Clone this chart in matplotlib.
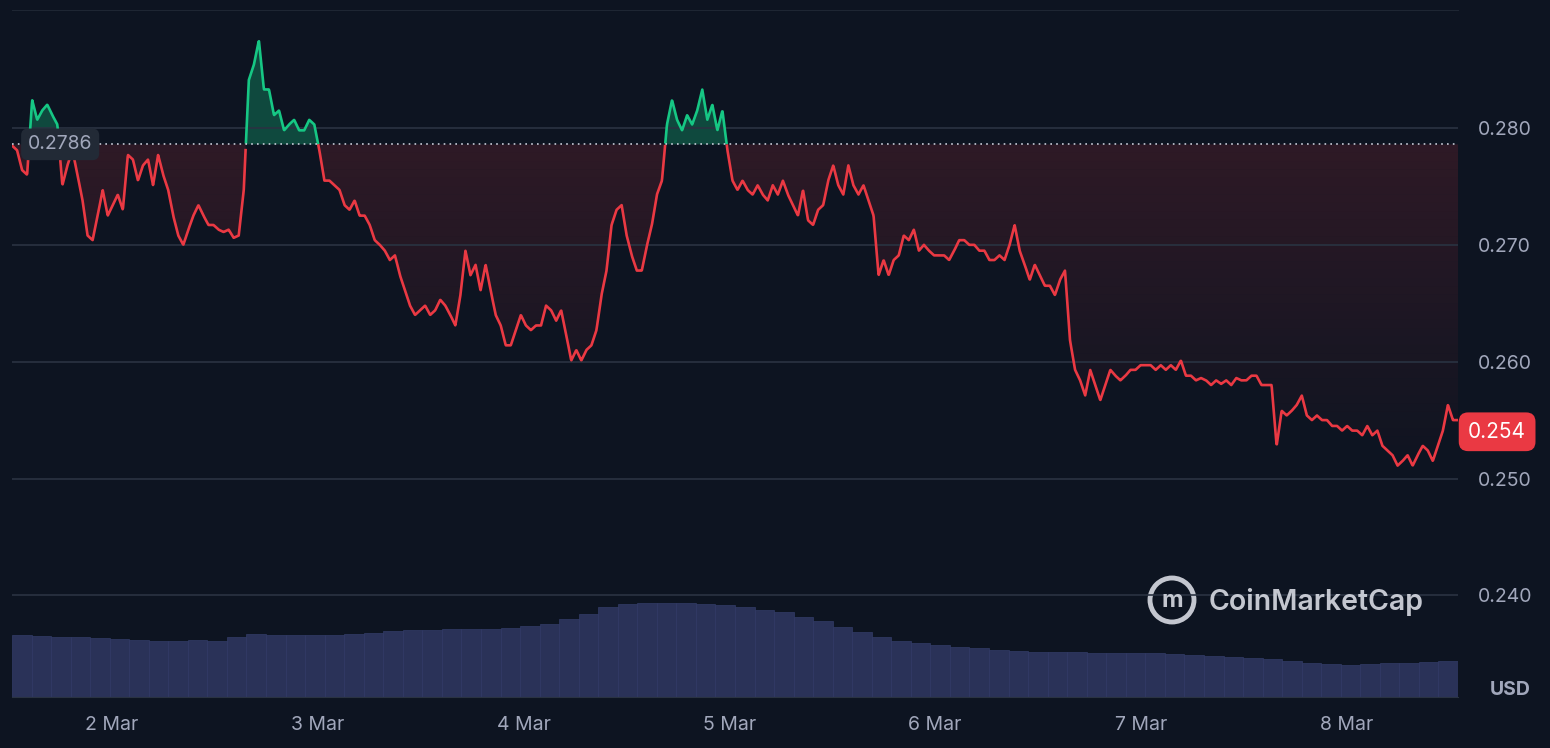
import numpy as np
import matplotlib.pyplot as plt
import matplotlib.dates as mdates
from matplotlib.patches import Ellipse
import pandas as pd

plt.rcParams['font.family'] = ['Inter', 'DejaVu Sans']

# price in USD (thousandths), every 35 minutes
price_k = [278.5, 278.1, 276.4, 276.0, 282.4, 280.7, 281.5, 282.0, 281.1, 280.3, 275.1, 276.8, 278.1, 276.0,
           273.8, 270.8, 270.4, 272.5, 274.7, 272.5, 273.4, 274.3, 273.0, 277.7, 277.3, 275.5, 276.8, 277.3,
           275.1, 277.7, 276.0, 274.7, 272.5, 270.8, 270.0, 271.3, 272.5, 273.4, 272.5, 271.7, 271.7, 271.3,
           271.1, 271.3, 270.6, 270.8, 274.7, 284.1, 285.4, 287.5, 283.3, 283.3, 281.1, 281.5, 279.8, 280.3,
           280.7, 279.8, 279.8, 280.7, 280.3, 278.1, 275.5, 275.5, 275.1, 274.7, 273.4, 273.0, 273.8, 272.5,
           272.5, 271.7, 270.4, 270.0, 269.5, 268.7, 269.1, 267.4, 266.1, 264.8, 264.0, 264.4, 264.8, 264.0,
           264.4, 265.3, 264.8, 264.0, 263.1, 265.7, 269.5, 267.4, 268.3, 266.1, 268.3, 266.1, 264.0, 263.1,
           261.4, 261.4, 262.7, 264.0, 263.1, 262.7, 263.1, 263.1, 264.8, 264.4, 263.5, 264.4, 262.3, 260.1,
           261.0, 260.1, 261.0, 261.4, 262.7, 265.7, 267.8, 271.7, 273.0, 273.4, 270.8, 269.1, 267.8, 267.8,
           269.9, 271.7, 274.3, 275.5, 280.3, 282.4, 280.7, 279.8, 281.1, 280.3, 281.5, 283.3, 280.7, 282.0,
           279.8, 281.5, 278.1, 275.5, 274.7, 275.5, 274.7, 274.3, 275.1, 274.3, 273.8, 275.1, 274.3, 275.5,
           274.3, 273.4, 272.5, 274.7, 272.1, 271.7, 273.0, 273.4, 275.5, 276.8, 275.1, 274.3, 276.8, 275.1,
           274.3, 275.1, 273.8, 272.5, 267.4, 268.7, 267.4, 268.7, 269.1, 270.8, 270.4, 271.3, 269.5, 270.0,
           269.5, 269.1, 269.1, 269.1, 268.7, 269.5, 270.4, 270.4, 270.0, 270.0, 269.5, 269.5, 268.7, 268.7,
           269.1, 268.7, 270.0, 271.7, 269.5, 268.3, 267.0, 268.3, 267.4, 266.5, 266.5, 265.7, 267.0, 267.8,
           261.8, 259.3, 258.4, 257.1, 259.3, 258.0, 256.7, 258.0, 259.3, 258.8, 258.4, 258.8, 259.3, 259.3,
           259.7, 259.7, 259.7, 259.3, 259.7, 259.3, 259.7, 259.3, 260.1, 258.8, 258.8, 258.4, 258.6, 258.4,
           258.0, 258.4, 258.1, 258.4, 258.0, 258.6, 258.4, 258.4, 258.8, 258.8, 258.0, 258.0, 258.0, 252.8,
           255.8, 255.4, 255.8, 256.3, 257.1, 255.4, 255.0, 255.4, 255.0, 255.0, 254.5, 254.5, 254.1, 254.5,
           254.1, 254.1, 253.7, 254.5, 253.7, 254.1, 252.8, 252.4, 252.0, 251.1, 251.5, 252.0, 251.1, 252.0,
           252.8, 252.4, 251.5, 252.8, 254.1, 256.3, 255.0, 255.0]
price = np.array(price_k) / 1000
baseline = 0.2786
last_price = 0.254

# volume (relative units), one bar per ~3 hours
volume = [62, 61, 60, 60, 59, 58, 57, 56, 56, 57, 56, 60, 63, 62, 62, 62, 62, 63, 64, 66, 67, 67, 68, 68,
          68, 69, 71, 73, 78, 83, 90, 93, 94, 94, 94, 93, 92, 90, 87, 85, 80, 76, 70, 65, 60, 56, 54, 52, 50,
          49, 47, 46, 45, 45, 45, 44, 44, 44, 44, 43, 42, 41, 40, 39, 38, 36, 34, 33, 32, 33, 34, 34, 35, 36]

day_labels = ['2 Mar', '3 Mar', '4 Mar', '5 Mar', '6 Mar', '7 Mar', '8 Mar']
y_ticks = [0.240, 0.250, 0.260, 0.270, 0.280]

bg = '#0d1421'
red, green = '#ea3943', '#16c784'
txt = '#a1a7bb'

start = pd.Timestamp('2025-03-01 12:20')
end = pd.Timestamp('2025-03-08 13:00')
t = pd.date_range(start, end, periods=len(price))
tv = pd.date_range(start, end, periods=len(volume) + 1)

fig = plt.figure(figsize=(15.5, 7.48), dpi=100, facecolor=bg)
ax = fig.add_axes([12 / 1550, 51 / 748, 1446 / 1550, 687 / 748])
ax.set_facecolor(bg)

axv = ax.twinx()
axv.set_zorder(0)
ax.set_zorder(1)
ax.patch.set_visible(False)
axv.set_facecolor(bg)
width = (tv[1] - tv[0])
axv.bar(tv[:-1], volume, width=width, align='edge', color='#2a3258', edgecolor='#333c68', linewidth=0.5)
axv.set_ylim(0, 94 / 0.137)
axv.axis('off')

xn = mdates.date2num(t)
xf = np.linspace(xn[0], xn[-1], 4000)
pf = np.interp(xf, xn, price)
above = pf >= baseline
ax.fill_between(xf, pf, baseline, where=above, color=green, alpha=0.3, linewidth=0, interpolate=True)
# red fill fading downward
nb = 40
bottom = 0.2500
for i in range(nb):
    hi = baseline - (baseline - bottom) * i / nb
    lo = baseline - (baseline - bottom) * (i + 1) / nb
    a = 0.15 * (1 - i / nb)
    ax.fill_between(xf, np.clip(pf, lo, hi), hi, where=~above, color=red, alpha=a, linewidth=0)
ax.plot(xf, np.where(above, np.nan, pf), color=red, lw=1.9)
ax.plot(xf, np.where(~above, np.nan, pf), color=green, lw=1.9)
ax.axhline(baseline, color='#c8ccd8', lw=1.2, ls=(0, (1, 2.5)))

ax.set_xlim(mdates.date2num(start), mdates.date2num(end))
ax.set_ylim(0.2313, 0.2901)
ax.set_yticks(y_ticks)
ax.yaxis.tick_right()
ax.set_yticklabels([f'{v:.3f}' for v in y_ticks])
ax.grid(axis='y', color='#2a3342', lw=1.2)
days = pd.date_range('2025-03-02', periods=7, freq='D')
ax.set_xticks(mdates.date2num(days))
ax.set_xticklabels(day_labels)
ax.tick_params(colors=txt, labelsize=14, length=0, pad=14)
ax.tick_params(axis='y', pad=14)
for s in ax.spines.values():
    s.set_visible(False)
ax.spines['bottom'].set_visible(True)
ax.spines['bottom'].set_color('#2a3342')
ax.spines['top'].set_visible(True)
ax.spines['top'].set_color('#1e2633')

ax.text(0.011, baseline, '0.2786', transform=ax.get_yaxis_transform(), color=txt, fontsize=14, va='center',
        bbox=dict(boxstyle='round,pad=0.35', fc='#222a36', ec='none'))
ax.text(1.007, last_price, '0.254', transform=ax.get_yaxis_transform(), color='white', fontsize=15,
        va='center', clip_on=False, bbox=dict(boxstyle='round,pad=0.45', fc=red, ec='none'))
fig.text(1510 / 1550, 58 / 748, 'USD', color=txt, fontsize=14, fontweight='bold', ha='center', va='center')
fig.text(1209 / 1550, 146 / 748, 'CoinMarketCap', color='#d8dbe3', fontsize=20.5, fontweight='semibold',
         va='center', alpha=0.9)
logo = Ellipse((1172 / 1550, 148 / 748), 44 / 1550, 44 / 748, transform=fig.transFigure, fill=False,
               ec='#d8dbe3', lw=3.5, alpha=0.9)
fig.add_artist(logo)
fig.text(1172 / 1550, 147 / 748, 'm', color='#d8dbe3', fontsize=17, fontweight='bold',
         ha='center', va='center', alpha=0.9)

fig.savefig('out.png', facecolor=bg)
